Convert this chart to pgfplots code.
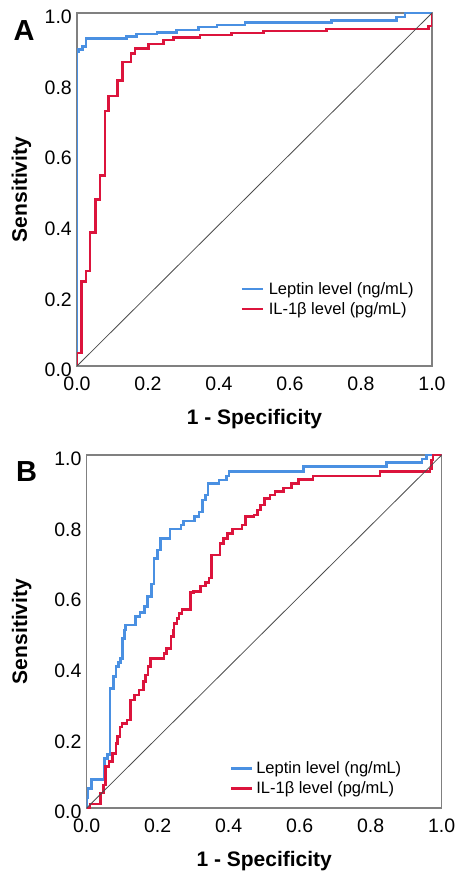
\documentclass[border=0pt]{standalone}
\usepackage{fontspec}
\setmainfont{Liberation Sans}
\usepackage{pgfplots}
\pgfplotsset{compat=1.18}
\definecolor{lblue}{RGB}{74,144,226}
\definecolor{lred}{RGB}{220,20,60}
\definecolor{frame}{RGB}{128,128,128}
\pgfplotsset{
  rocstyle/.style={
    scale only axis, width=355pt, height=353pt,
    xmin=0, xmax=1, ymin=0, ymax=1,
    xtick={0,0.2,0.4,0.6,0.8,1}, ytick={0,0.2,0.4,0.6,0.8,1},
    major tick length=0pt,
    axis line style={draw=frame, line width=1.1pt},
    tick label style={font=\fontsize{19.5}{19.5}\selectfont},
    /pgf/number format/fixed, /pgf/number format/fixed zerofill,
    /pgf/number format/precision=1, /pgf/number format/assume math mode=true,
    yticklabel style={anchor=east, inner sep=0pt, xshift=-5pt, yshift=-4pt},
    xticklabel style={anchor=north, inner sep=0pt, yshift=-11pt},
    label style={font=\fontsize{21}{21}\selectfont\bfseries},
    xlabel={1 - Specificity}, ylabel={Sensitivity},
    xlabel style={at={(axis description cs:0.5,-0.166)}, anchor=base},
    legend image code/.code={\draw[##1, line width=2.6pt] (0pt,0pt) -- (21pt,0pt);},
    legend cell align=left,
  },
  curve/.style={const plot, line width=2.6pt, line join=miter},
}
\begin{document}
\begin{tikzpicture}[x=1pt,y=1pt]
\useasboundingbox (0,0) rectangle (456,876);
\begin{axis}[rocstyle, at={(77pt,510pt)}, anchor=south west,
  ylabel style={at={(axis description cs:-0.141,0.5)}, rotate=0, anchor=base},
  legend style={at={(axis cs:0.461,0.246)}, anchor=north west, draw=none, fill=none,
    inner sep=0pt, outer sep=0pt, row sep=0pt, column sep=4.5pt,
    font=\fontsize{16.5}{16.5}\selectfont,
    nodes={inner sep=0pt, text height=15pt, text depth=5pt}}]
\addplot[curve, lblue] coordinates {
(0,0) (0,0.89) (0.005,0.897) (0.016,0.905) (0.025,0.928) (0.14,0.933) (0.168,0.94)
(0.225,0.945) (0.28,0.952) (0.342,0.96) (0.394,0.966) (0.473,0.973) (0.717,0.978)
(0.90,0.989) (0.924,1.0) (1,1)};
\addlegendentry{Leptin level (ng/mL)}
\addplot[curve, lred] coordinates {
(0,0) (0,0.037) (0.013,0.239) (0.025,0.269) (0.037,0.379) (0.052,0.472) (0.065,0.539)
(0.079,0.722) (0.088,0.765) (0.114,0.808) (0.129,0.861) (0.152,0.886) (0.163,0.899)
(0.201,0.912) (0.243,0.924) (0.271,0.931) (0.346,0.938) (0.436,0.943) (0.525,0.949)
(0.703,0.955) (0.99,0.963) (1.0,1.0)};
\addlegendentry{IL-1β level (pg/mL)}
\addplot[forget plot, draw=black!70, line width=0.8pt] coordinates {(0,0) (1,1)};
\end{axis}
\begin{axis}[rocstyle, at={(86.7pt,68pt)}, anchor=south west,
  ylabel style={at={(axis description cs:-0.168,0.5)}, rotate=0, anchor=base},
  legend style={at={(axis cs:0.404,0.141)}, anchor=north west, draw=none, fill=none,
    inner sep=0pt, outer sep=0pt, row sep=0pt, column sep=2.6pt,
    font=\fontsize{16.5}{16.5}\selectfont,
    nodes={inner sep=0pt, text height=15pt, text depth=5pt}}]
\addplot[curve, lblue] coordinates {
(0,0) (0,0.03) (0.004,0.056) (0.013,0.081) (0.05,0.141) (0.058,0.152) (0.066,0.339)
(0.075,0.372) (0.082,0.40) (0.089,0.412) (0.096,0.424) (0.101,0.481) (0.107,0.504)
(0.11,0.518) (0.138,0.542) (0.15,0.553) (0.163,0.570) (0.171,0.599) (0.182,0.635)
(0.19,0.707) (0.199,0.731) (0.208,0.764) (0.235,0.79) (0.266,0.802) (0.272,0.813)
(0.304,0.825) (0.316,0.839) (0.326,0.873) (0.335,0.887) (0.342,0.92) (0.373,0.929)
(0.394,0.94) (0.401,0.953) (0.61,0.967) (0.845,0.978) (0.944,0.989) (0.958,1.0) (1,1)};
\addlegendentry{Leptin level (ng/mL)}
\addplot[curve, lred] coordinates {
(0,0) (0.009,0.011) (0.039,0.042) (0.047,0.065) (0.053,0.117) (0.063,0.131) (0.072,0.155)
(0.082,0.183) (0.086,0.202) (0.094,0.23) (0.10,0.24) (0.114,0.249) (0.124,0.306)
(0.135,0.32) (0.147,0.334) (0.16,0.358) (0.166,0.377) (0.173,0.40) (0.18,0.424)
(0.218,0.438) (0.225,0.452) (0.238,0.485) (0.244,0.504) (0.246,0.523) (0.254,0.537)
(0.26,0.551) (0.269,0.563) (0.293,0.61) (0.30,0.613) (0.321,0.629) (0.335,0.638)
(0.345,0.651) (0.351,0.717) (0.375,0.75) (0.385,0.764) (0.396,0.778) (0.41,0.79)
(0.438,0.802) (0.448,0.825) (0.471,0.83) (0.481,0.844) (0.49,0.858) (0.50,0.877)
(0.516,0.887) (0.53,0.896) (0.554,0.906) (0.577,0.92) (0.596,0.931) (0.638,0.94)
(0.826,0.953) (0.967,0.96) (0.972,0.986) (0.976,1.0) (1,1)};
\addlegendentry{IL-1β level (pg/mL)}
\addplot[forget plot, draw=black!70, line width=0.8pt] coordinates {(0,0) (1,1)};
\end{axis}
\node[font=\fontsize{29}{29}\selectfont\bfseries] at (24,845) {A};
\node[font=\fontsize{29}{29}\selectfont\bfseries] at (26.7,404.3) {B};
\end{tikzpicture}
\end{document}
